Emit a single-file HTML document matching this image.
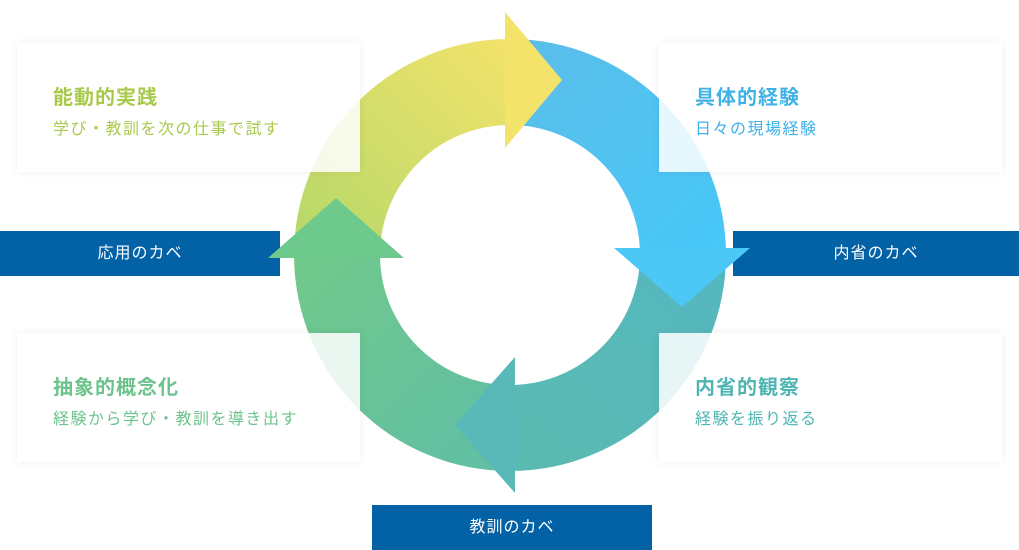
<!DOCTYPE html>
<html><head><meta charset="utf-8"><style>
body{margin:0;width:1019px;height:550px;background:#fff;position:relative;overflow:hidden;font-family:"Liberation Sans","Noto Sans CJK JP",sans-serif}
svg{position:absolute;left:0;top:0}
.card{position:absolute;width:343px;height:129px;background:rgba(255,255,255,0.86);box-shadow:0 0 8px rgba(0,0,0,0.07)}
.card h3{margin:0;position:absolute;left:36px;top:38px;font-size:20px;font-weight:bold;letter-spacing:1px}
.card p{margin:0;position:absolute;left:36px;top:72px;font-size:16px;letter-spacing:1.5px}
.bar{position:absolute;height:45px;background:#0361a6;color:#fff;font-size:16px;line-height:45px;text-align:center;letter-spacing:1px}
</style></head><body>
<div class="bar" style="left:0;top:231px;width:280px">応用のカベ</div>
<div class="bar" style="left:733px;top:231px;width:286px">内省のカベ</div>
<div class="bar" style="left:372px;top:505px;width:280px">教訓のカベ</div>
<svg width="1019" height="550" viewBox="0 0 1019 550">
<defs>
<linearGradient id="g1" x1="0" y1="1" x2="1" y2="0"><stop offset="0" stop-color="#b4d86a"/><stop offset="1" stop-color="#f3e36b"/></linearGradient>
<linearGradient id="g2" x1="0" y1="0" x2="1" y2="1"><stop offset="0" stop-color="#5cbde9"/><stop offset="1" stop-color="#46c8f8"/></linearGradient>
<linearGradient id="g3" x1="1" y1="0" x2="0" y2="1"><stop offset="0" stop-color="#55b8c0"/><stop offset="1" stop-color="#5bbab0"/></linearGradient>
<linearGradient id="g4" x1="1" y1="1" x2="0" y2="0"><stop offset="0" stop-color="#5fbea6"/><stop offset="1" stop-color="#72c98a"/></linearGradient>
</defs>
<path d="M294 255 A216 216 0 0 1 510 39 L510 125 A130 130 0 0 0 380 255Z" fill="url(#g1)"/>
<path d="M510 39 A216 216 0 0 1 726 255 L640 255 A130 130 0 0 0 510 125Z" fill="url(#g2)"/>
<path d="M726 255 A216 216 0 0 1 510 471 L510 385 A130 130 0 0 0 640 255Z" fill="url(#g3)"/>
<path d="M510 471 A216 216 0 0 1 294 255 L380 255 A130 130 0 0 0 510 385Z" fill="url(#g4)"/>
<polygon points="505,12 562,80 505,148" fill="#f3e36b"/>
<polygon points="614,248 750,248 682,307" fill="#4cc8f6"/>
<polygon points="515,357 515,493 455,425" fill="#58b9b8"/>
<polygon points="268,258 404,258 336,198" fill="#6ec98d"/>
</svg>
<div class="card" style="left:17px;top:43px"><h3 style="color:#a9c94c">能動的実践</h3><p style="color:#a9c94c">学び・教訓を次の仕事で試す</p></div>
<div class="card" style="left:659px;top:43px"><h3 style="color:#3eb1e6">具体的経験</h3><p style="color:#3eb1e6">日々の現場経験</p></div>
<div class="card" style="left:17px;top:333px"><h3 style="color:#6cc48c">抽象的概念化</h3><p style="color:#6cc48c">経験から学び・教訓を導き出す</p></div>
<div class="card" style="left:659px;top:333px"><h3 style="color:#4fb5b3">内省的観察</h3><p style="color:#4fb5b3">経験を振り返る</p></div>
</body></html>
